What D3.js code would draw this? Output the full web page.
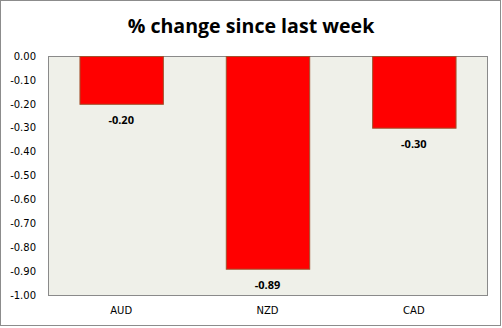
<!DOCTYPE html>
<html>
<head>
<meta charset="utf-8">
<script src="https://cdn.jsdelivr.net/npm/d3@7"></script>
<style>
  html, body { margin: 0; padding: 0; background: #fff; }
  svg { display: block; }
</style>
</head>
<body>
<script>
// Weekly currency moves
const categories = ["AUD", "NZD", "CAD"];
const values = [-0.20, -0.89, -0.30];
const yTicks = [0, -0.1, -0.2, -0.3, -0.4, -0.5, -0.6, -0.7, -0.8, -0.9, -1.0];
const title = "% change since last week";

const W = 502, H = 328;
const plot = { left: 48, top: 56, right: 487, bottom: 295 };

// plain hyphen for negative numbers
const fmt = d3.formatLocale({ decimal: ".", thousands: ",", grouping: [3], currency: ["", ""], minus: "-" }).format(".2f");

const svg = d3.select("body").append("svg")
  .attr("width", W).attr("height", H);

// outer frame
svg.append("rect")
  .attr("x", 0.5).attr("y", 0.5)
  .attr("width", W - 2).attr("height", H - 3)
  .attr("fill", "#fff").attr("stroke", "#8c8c8c").attr("stroke-width", 1);

// title
svg.append("text")
  .attr("x", 251).attr("y", 33)
  .attr("text-anchor", "middle")
  .attr("font-family", "'Open Sans', sans-serif")
  .attr("font-weight", "bold")
  .attr("font-size", 19.6)
  .attr("fill", "#000")
  .text(title);

const x = d3.scaleBand()
  .domain(categories)
  .range([plot.left, plot.right])
  .paddingInner(0.43)
  .paddingOuter(0.215);

const y = d3.scaleLinear()
  .domain([-1, 0])
  .range([plot.bottom, plot.top]);

// plot area
svg.append("rect")
  .attr("x", plot.left + 0.5).attr("y", plot.top + 0.5)
  .attr("width", plot.right - plot.left).attr("height", plot.bottom - plot.top)
  .attr("fill", "#eff0e9").attr("stroke", "#8a8a8a").attr("stroke-width", 1);

// y axis labels
const yAxis = d3.axisLeft(y)
  .tickValues(yTicks)
  .tickFormat(fmt)
  .tickSize(0)
  .tickPadding(12);

const gy = svg.append("g")
  .attr("transform", `translate(${plot.left},0)`)
  .call(yAxis);
gy.select(".domain").remove();
gy.selectAll("text")
  .attr("font-family", "'DejaVu Sans', Verdana, sans-serif")
  .attr("font-size", 10)
  .attr("fill", "#000");

// x axis labels
const xAxis = d3.axisBottom(x).tickSize(0).tickPadding(12);
const gx = svg.append("g")
  .attr("transform", `translate(0,${plot.bottom})`)
  .call(xAxis);
gx.select(".domain").remove();
gx.selectAll("text")
  .attr("font-family", "'DejaVu Sans', Verdana, sans-serif")
  .attr("font-size", 10)
  .attr("fill", "#000");

// bars
svg.append("g").selectAll("rect")
  .data(categories)
  .join("rect")
  .attr("x", (d) => x(d) + 0.5)
  .attr("y", y(0) + 0.5)
  .attr("width", x.bandwidth())
  .attr("height", (d, i) => y(values[i]) - y(0))
  .attr("fill", "#ff0000")
  .attr("stroke", "#a0522d")
  .attr("stroke-width", 1);

// value labels
svg.append("g").selectAll("text")
  .data(categories)
  .join("text")
  .attr("x", (d) => x(d) + x.bandwidth() / 2)
  .attr("y", (d, i) => y(values[i]) + 20)
  .attr("text-anchor", "middle")
  .attr("font-family", "'Open Sans', sans-serif")
  .attr("font-weight", "bold")
  .attr("font-size", 11)
  .attr("fill", "#000")
  .text((d, i) => fmt(values[i]));
</script>
</body>
</html>
